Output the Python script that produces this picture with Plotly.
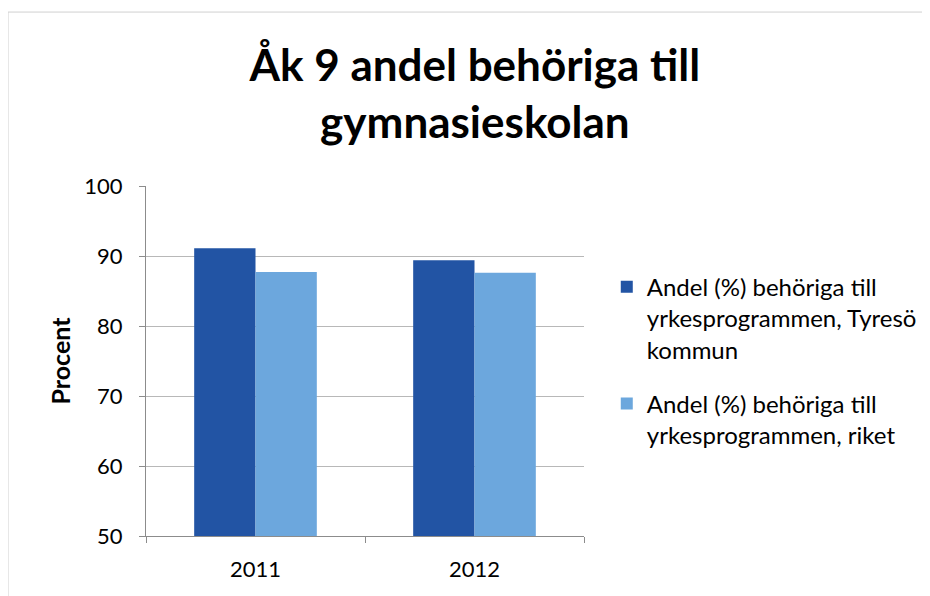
import plotly.graph_objects as go

years = ["2011", "2012"]
tyreso = [91.1, 89.4]
riket = [87.7, 87.6]
names = [
    "Andel (%) behöriga till<br>yrkesprogrammen, Tyresö<br>kommun",
    "Andel (%) behöriga till<br>yrkesprogrammen, riket",
]
yticks = [50, 60, 70, 80, 90, 100]

fig = go.Figure()
fig.add_trace(go.Bar(x=years, y=tyreso, name=names[0], legendgroup="a",
                     marker=dict(color="#2254a4", line=dict(width=0))))
fig.add_trace(go.Bar(x=years, y=riket, name=names[1], legendgroup="b",
                     marker=dict(color="#6ca7dd", line=dict(width=0))))

# page has ~7px body margin, so margins are shifted to compensate
fig.update_layout(
    width=930, height=596,
    margin=dict(l=138, r=354, t=178, b=68),
    paper_bgcolor="white", plot_bgcolor="white",
    font=dict(family="Lato, Open Sans, sans-serif", size=22, color="black"),
    title=dict(
        text="<b>Åk 9 andel behöriga till<br>gymnasieskolan</b>",
        x=0.502, xanchor="center", y=0.878, yanchor="middle",
        font=dict(size=44, color="black"),
    ),
    barmode="group", bargap=0.44, bargroupgap=0,
    legend=dict(x=1.052, y=0.775, xanchor="left", yanchor="top", valign="top",
                font=dict(size=24), tracegroupgap=20),
    showlegend=True,
)
fig.update_yaxes(
    range=[50, 100], tickvals=yticks, showgrid=True, gridcolor="#b8b8b8", gridwidth=1,
    showline=True, linecolor="#8c8c8c", ticks="outside", ticklen=6, tickcolor="#8c8c8c",
    ticklabelstandoff=12,
    title=dict(text="<b>Procent</b>", font=dict(size=25), standoff=6),
    zeroline=False,
)
fig.update_xaxes(
    showline=True, linecolor="#8c8c8c", ticks="outside", ticklen=6, tickcolor="#8c8c8c",
    tickson="boundaries", showgrid=False, ticklabelstandoff=14,
)
fig.add_shape(type="rect", xref="paper", yref="paper", x0=-0.315, x1=1.778, y0=-0.25, y1=1.497,
              line=dict(color="#d0d0d0", width=1))

fig.write_html("out.html")
